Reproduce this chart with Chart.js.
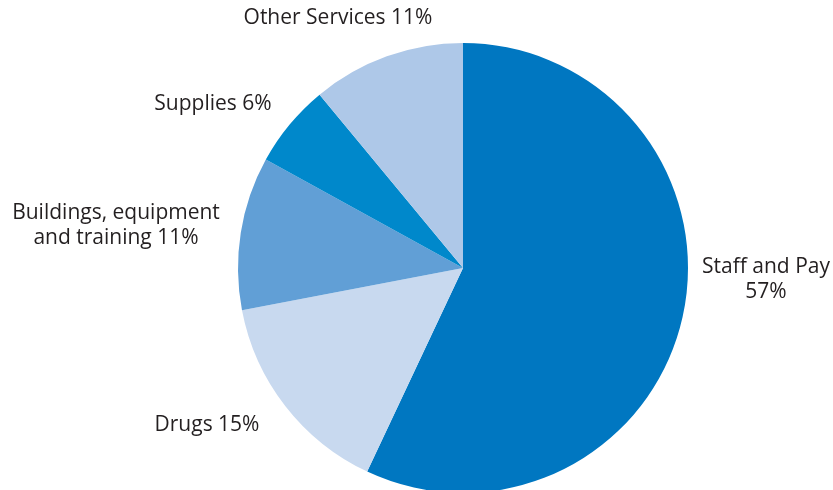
<!DOCTYPE html>
<html>
<head>
<meta charset="utf-8">
<script src="https://cdn.jsdelivr.net/npm/chart.js@4"></script>
<style>
  html, body { margin: 0; padding: 0; background: #fff; overflow: hidden; }
  #wrap { width: 833px; height: 500px; }
</style>
</head>
<body>
<div id="wrap"><canvas id="myChart" width="833" height="500"></canvas></div>
<script>
const CATEGORIES = ["Staff and Pay", "Drugs", "Buildings, equipment and training", "Supplies", "Other Services"];
const SHARES = [57, 15, 11, 6, 11];
const COLOURS = ["#0077c1", "#c8d9ef", "#619fd6", "#0088cb", "#aec8e8"];

// label text lines for each slice
const LABEL_LINES = [
  ["Staff and Pay", "57%"],
  ["Drugs 15%"],
  ["Buildings, equipment", "and training 11%"],
  ["Supplies 6%"],
  ["Other Services 11%"],
];

// where each label sits, relative to the pie centre
const labelLayout = [
  { dx: 303, dy: 12 },
  { dx: -256, dy: 157 },
  { dx: -347, dy: -42 },
  { dx: -250, dy: -164 },
  { dx: -125, dy: -250 },
];

const outsideLabels = {
  id: "outsideLabels",
  afterDraw(chart) {
    const c = chart.ctx;
    const arc = chart.getDatasetMeta(0).data[0];
    c.save();
    c.fillStyle = "#231f20";
    c.font = "21px 'Open Sans', sans-serif";
    c.textAlign = "center";
    c.textBaseline = "middle";
    const lineH = 25;
    LABEL_LINES.forEach((lines, i) => {
      const p = labelLayout[i];
      const top = arc.y + p.dy - ((lines.length - 1) * lineH) / 2;
      lines.forEach((t, j) => c.fillText(t, arc.x + p.dx, top + j * lineH));
    });
    c.restore();
  },
};

new Chart(document.querySelector("#myChart"), {
  type: "pie",
  data: {
    labels: CATEGORIES,
    datasets: [
      {
        data: SHARES,
        backgroundColor: COLOURS,
        borderWidth: 0,
      },
    ],
  },
  options: {
    responsive: false,
    animation: false,
    layout: {
      padding: { left: 238, right: 145, top: 43, bottom: 7 },
    },
    plugins: {
      legend: { display: false },
      tooltip: { enabled: false },
    },
  },
  plugins: [outsideLabels],
});
</script>
</body>
</html>
